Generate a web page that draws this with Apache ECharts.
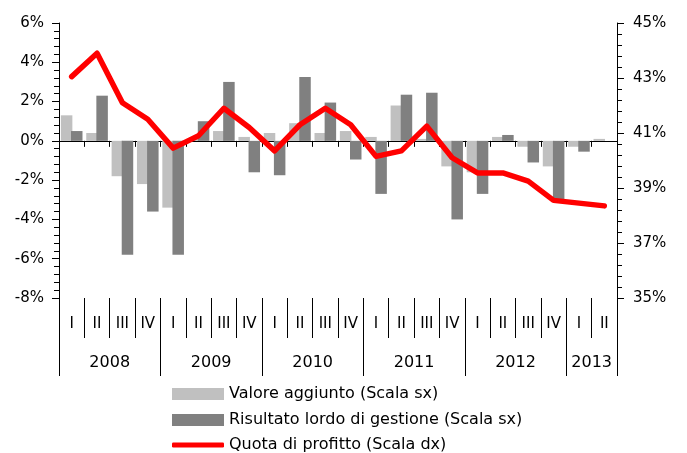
<!DOCTYPE html>
<html>
<head>
<meta charset="utf-8">
<script src="https://cdn.jsdelivr.net/npm/echarts@6/dist/echarts.min.js"></script>
<style>
  html, body { margin: 0; padding: 0; background: #fff; }
  #chart { width: 687px; height: 453px; }
</style>
</head>
<body>
<div id="chart"></div>
<script>
// trimestri 2008 I - 2013 II
var quarters = ["I", "II", "III", "IV", "I", "II", "III", "IV", "I", "II", "III", "IV",
                "I", "II", "III", "IV", "I", "II", "III", "IV", "I", "II"];
var years = ["2008", "2009", "2010", "2011", "2012", "2013"];
var yearCenters = [2, 6, 10, 14, 18, 21];
var yearBounds = [0, 4, 8, 12, 16, 20, 22];

// variazioni % (scala sx)
var valoreAggiunto = [1.3, 0.4, -1.8, -2.2, -3.4, 0.1, 0.5, 0.2, 0.4, 0.9, 0.4, 0.5,
                      0.2, 1.8, 0.1, -1.3, -1.6, 0.2, -0.3, -1.3, -0.3, 0.1];
var risultatoLordo = [0.5, 2.3, -5.8, -3.6, -5.8, 1.0, 3.0, -1.6, -1.75, 3.25, 1.95, -0.95,
                      -2.7, 2.35, 2.45, -4.0, -2.7, 0.3, -1.1, -3.0, -0.55, 0];
// quota di profitto % (scala dx)
var quotaProfitto = [43.05, 43.9, 42.1, 41.5, 40.45, 40.9, 41.9, 41.2, 40.35, 41.3, 41.9, 41.3,
                     40.15, 40.35, 41.25, 40.1, 39.55, 39.55, 39.25, 38.55, 38.45, 38.35];

var FONT = "DejaVu Sans";
var chart = echarts.init(document.getElementById("chart"), null, { renderer: "canvas" });

function legendBox(name, top, icon, h) {
    return {
        data: [{ name: name, icon: icon }],
        left: 172, top: top,
        itemWidth: 52, itemHeight: h,
        padding: 0,
        selectedMode: false,
        textStyle: { fontFamily: FONT, fontSize: 16, color: "#000" }
    };
}

var option = {
    animation: false,
    backgroundColor: "#fff",
    textStyle: { fontFamily: FONT },
    grid: { left: 59, right: 70, top: 23, bottom: 155, containLabel: false },
    legend: [
        legendBox("Valore aggiunto (Scala sx)", 386, "rect", 12),
        legendBox("Risultato lordo di gestione (Scala sx)", 412, "rect", 12),
        legendBox("Quota di profitto (Scala dx)", 437, "roundRect", 5)
    ],
    xAxis: [
        {   // linea dello zero
            type: "category", data: quarters, position: "bottom",
            axisLine: { onZero: true, onZeroAxisIndex: 0, lineStyle: { color: "#000", width: 1 } },
            axisTick: { show: true, length: 6, lineStyle: { color: "#000" } },
            axisLabel: { show: false },
            splitLine: { show: false }
        },
        {   // trimestri
            type: "category", data: quarters, position: "bottom",
            axisLine: { show: false, onZero: false },
            axisTick: { show: true, length: 40, lineStyle: { color: "#000" } },
            axisLabel: { show: true, margin: 19, fontFamily: FONT, fontSize: 15, color: "#000" },
            splitLine: { show: false }
        },
        {   // anni
            type: "value", min: 0, max: 22, position: "bottom",
            axisLine: { show: false, onZero: false },
            axisTick: { show: true, length: 78, customValues: yearBounds, lineStyle: { color: "#000" } },
            axisLabel: {
                show: true, margin: 57, customValues: yearCenters,
                fontFamily: FONT, fontSize: 16, color: "#000",
                formatter: function (v) { return years[yearCenters.indexOf(v)]; }
            },
            splitLine: { show: false }
        }
    ],
    yAxis: [
        {
            type: "value", min: -8, max: 6, interval: 2, position: "left",
            axisLine: { show: true, lineStyle: { color: "#000" } },
            axisTick: { show: true, length: 7, lineStyle: { color: "#000" } },
            minorTick: { show: true, splitNumber: 5, length: 5, lineStyle: { color: "#000" } },
            axisLabel: { formatter: "{value}%", margin: 15, fontFamily: FONT, fontSize: 15, color: "#000" },
            splitLine: { show: false }
        },
        {
            type: "value", min: 35, max: 45, interval: 2, position: "right",
            axisLine: { show: true, lineStyle: { color: "#000" } },
            axisTick: { show: true, length: 7, lineStyle: { color: "#000" } },
            minorTick: { show: true, splitNumber: 5, length: 5, lineStyle: { color: "#000" } },
            axisLabel: { formatter: "{value}%", margin: 16, fontFamily: FONT, fontSize: 15, color: "#000" },
            splitLine: { show: false }
        }
    ],
    series: [
        {
            name: "Valore aggiunto (Scala sx)", type: "bar",
            xAxisIndex: 0, yAxisIndex: 0,
            data: valoreAggiunto,
            barWidth: 11.5, barGap: "-12%",
            itemStyle: { color: "#c0c0c0" }
        },
        {
            name: "Risultato lordo di gestione (Scala sx)", type: "bar",
            xAxisIndex: 0, yAxisIndex: 0,
            data: risultatoLordo,
            barWidth: 11.5, barGap: "-12%",
            itemStyle: { color: "#808080" }
        },
        {
            name: "Quota di profitto (Scala dx)", type: "line",
            xAxisIndex: 0, yAxisIndex: 1,
            data: quotaProfitto,
            showSymbol: false, symbol: "none",
            z: 5,
            itemStyle: { color: "#ff0000" },
            lineStyle: { color: "#ff0000", width: 5.5, cap: "round", join: "round" }
        }
    ]
};

chart.setOption(option);
</script>
</body>
</html>
